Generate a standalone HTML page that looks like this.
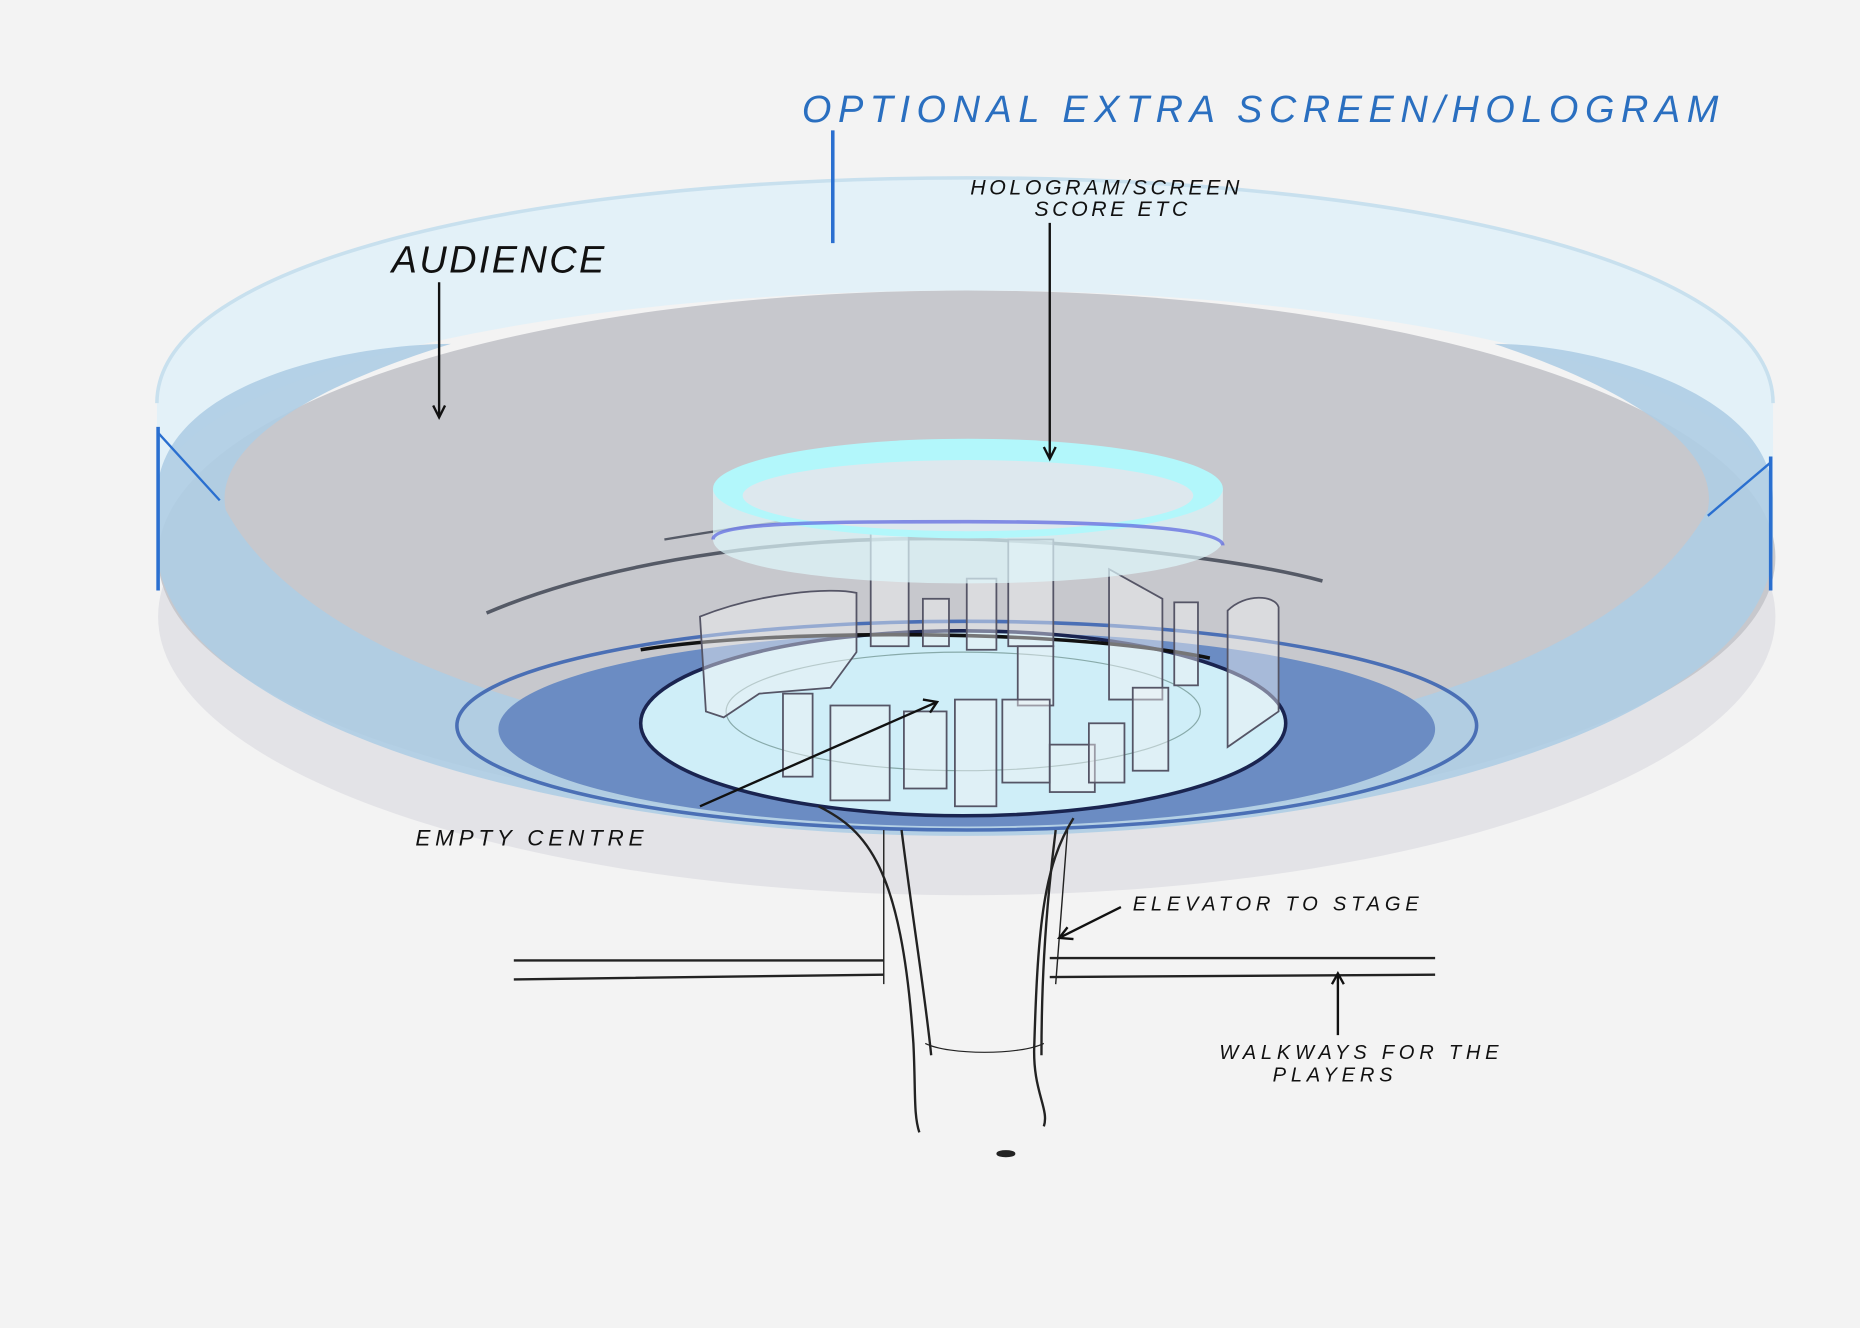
<!DOCTYPE html>
<html><head><meta charset="utf-8"><style>
html,body{margin:0;padding:0;background:#f3f3f3;}
svg{display:block;}
text{font-family:"Liberation Sans",sans-serif;font-style:italic;}
</style></head><body>
<svg width="1860" height="1328" viewBox="0 0 1568 1120" xmlns="http://www.w3.org/2000/svg">
<rect width="1568" height="1120" fill="#f3f3f3"/>
<ellipse cx="815" cy="520" rx="682" ry="235" fill="#e3e3e7"/>
<ellipse cx="815" cy="470" rx="682" ry="225" fill="#c7c8cd"/>
<path d="M132,340 C132,220 450,150 815,150 C1180,150 1495,220 1495,340 L1495,420 C1495,320 1180,245 815,245 C450,245 132,320 132,420 Z" fill="#e2f0f8" opacity="0.95"/>
<path d="M132,340 C132,220 450,150 815,150 C1180,150 1495,220 1495,340" fill="none" stroke="#c8e0ee" stroke-width="3"/>
<path d="M132,420 C132,320 300,290 380,290 C250,330 180,380 190,430 C260,560 520,640 815,640 C1110,640 1370,560 1440,430 C1450,380 1380,330 1260,290 C1340,290 1495,330 1495,420 L1495,460 C1495,600 1180,705 815,705 C450,705 132,600 132,460 Z" fill="#aecde4" opacity="0.9"/>
<line x1="133" y1="360" x2="133" y2="498" stroke="#2a6fd0" stroke-width="3"/>
<line x1="1493" y1="385" x2="1493" y2="498" stroke="#2a6fd0" stroke-width="3"/>
<path d="M133,365 L185,422" stroke="#2a6fd0" stroke-width="2" fill="none"/>
<path d="M1493,390 L1440,435" stroke="#2a6fd0" stroke-width="2" fill="none"/>
<path d="M410,517 C520,470 680,450 830,455 C950,460 1060,475 1115,490" fill="none" stroke="#555a66" stroke-width="3"/>
<path d="M560,455 C650,440 720,430 800,430" fill="none" stroke="#555a66" stroke-width="2"/>
<ellipse cx="815" cy="615" rx="395" ry="82" fill="#6b8cc3"/>
<ellipse cx="815" cy="612" rx="430" ry="88" fill="none" stroke="#4a6fb5" stroke-width="3"/>
<ellipse cx="812" cy="610" rx="272" ry="78" fill="#cfeef8" stroke="#1a2450" stroke-width="3"/>
<ellipse cx="812" cy="600" rx="200" ry="50" fill="none" stroke="#8aa" stroke-width="1"/>
<path d="M540,548 C650,530 900,530 1020,555" fill="none" stroke="#111" stroke-width="3"/>
<g fill="#f2f2f4" fill-opacity="0.45" stroke="#556" stroke-width="1.5">
<path d="M590,520 C640,500 700,495 722,500 L722,550 L700,580 L640,585 L610,605 L595,600 Z"/>
<rect x="734" y="440" width="32" height="105"/>
<rect x="850" y="455" width="38" height="90"/>
<rect x="815" y="488" width="25" height="60"/>
<rect x="778" y="505" width="22" height="40"/>
<path d="M935,480 L980,505 L980,590 L935,590 Z"/>
<rect x="990" y="508" width="20" height="70"/>
<path d="M1035,515 C1050,500 1075,502 1078,512 L1078,600 L1035,630 Z"/>
<rect x="858" y="545" width="30" height="50"/>
<rect x="700" y="595" width="50" height="80"/>
<rect x="762" y="600" width="36" height="65"/>
<rect x="805" y="590" width="35" height="90"/>
<rect x="845" y="590" width="40" height="70"/>
<rect x="885" y="628" width="38" height="40"/>
<rect x="918" y="610" width="30" height="50"/>
<rect x="955" y="580" width="30" height="70"/>
<rect x="660" y="585" width="25" height="70"/>
</g>
<path d="M601,412 L601,455 C601,478 700,492 816,492 C932,492 1031,478 1031,455 L1031,412" fill="#dff8fc" opacity="0.7"/>
<ellipse cx="816" cy="412" rx="215" ry="42" fill="#b2f7fb"/>
<ellipse cx="816" cy="418" rx="190" ry="30" fill="#dde8ee"/>
<path d="M601,455 C601,440 700,440 816,440 C932,440 1031,445 1031,460" fill="none" stroke="#5a64e0" stroke-width="3" opacity="0.7"/>
<g stroke="#222" fill="none" stroke-width="2">
<path d="M690,680 C730,700 760,730 770,880 C772,920 770,940 775,955"/>
<path d="M905,690 C880,730 875,780 872,880 C870,920 885,935 880,950"/>
<path d="M745,700 L745,830 M900,700 L890,830" stroke-width="1.2"/>
<path d="M760,700 C770,780 780,840 785,890"/>
<path d="M890,700 C880,780 878,840 878,890"/>
<path d="M780,880 C800,890 860,890 880,880" stroke-width="1"/>
<path d="M433,810 L745,810 M433,826 L745,822 M885,808 L1210,808 M885,824 L1210,822"/>
<ellipse cx="848" cy="973" rx="7" ry="2" fill="#222"/>
</g>
<g stroke="#111" fill="none" stroke-width="2">
<line x1="370" y1="238" x2="370" y2="350"/><path d="M365,342 L370,352 L375,342"/>
<line x1="885" y1="188" x2="885" y2="385"/><path d="M880,377 L885,387 L890,377"/>
<path d="M590,680 L790,592"/><path d="M778,590 L790,592 L784,601"/>
<path d="M945,765 L895,790"/><path d="M900,782 L893,791 L905,792"/>
<line x1="1128" y1="873" x2="1128" y2="822"/><path d="M1123,830 L1128,821 L1133,830"/>
</g>
<line x1="702" y1="110" x2="702" y2="205" stroke="#2a6fd0" stroke-width="3"/>
<text x="676" y="103" font-size="32" fill="#2a6fc0" letter-spacing="5.5">OPTIONAL  EXTRA  SCREEN/HOLOGRAM</text>
<text x="818" y="164" font-size="18" fill="#111" letter-spacing="3">HOLOGRAM/SCREEN</text>
<text x="872" y="182" font-size="18" fill="#111" letter-spacing="3">SCORE ETC</text>
<text x="330" y="230" font-size="32" fill="#111" letter-spacing="2">AUDIENCE</text>
<text x="350" y="713" font-size="19" fill="#111" letter-spacing="4">EMPTY CENTRE</text>
<text x="955" y="768" font-size="17" fill="#111" letter-spacing="4">ELEVATOR  TO  STAGE</text>
<text x="1028" y="893" font-size="17" fill="#111" letter-spacing="4">WALKWAYS  FOR  THE</text>
<text x="1073" y="912" font-size="17" fill="#111" letter-spacing="4">PLAYERS</text>
</svg>
</body></html>
